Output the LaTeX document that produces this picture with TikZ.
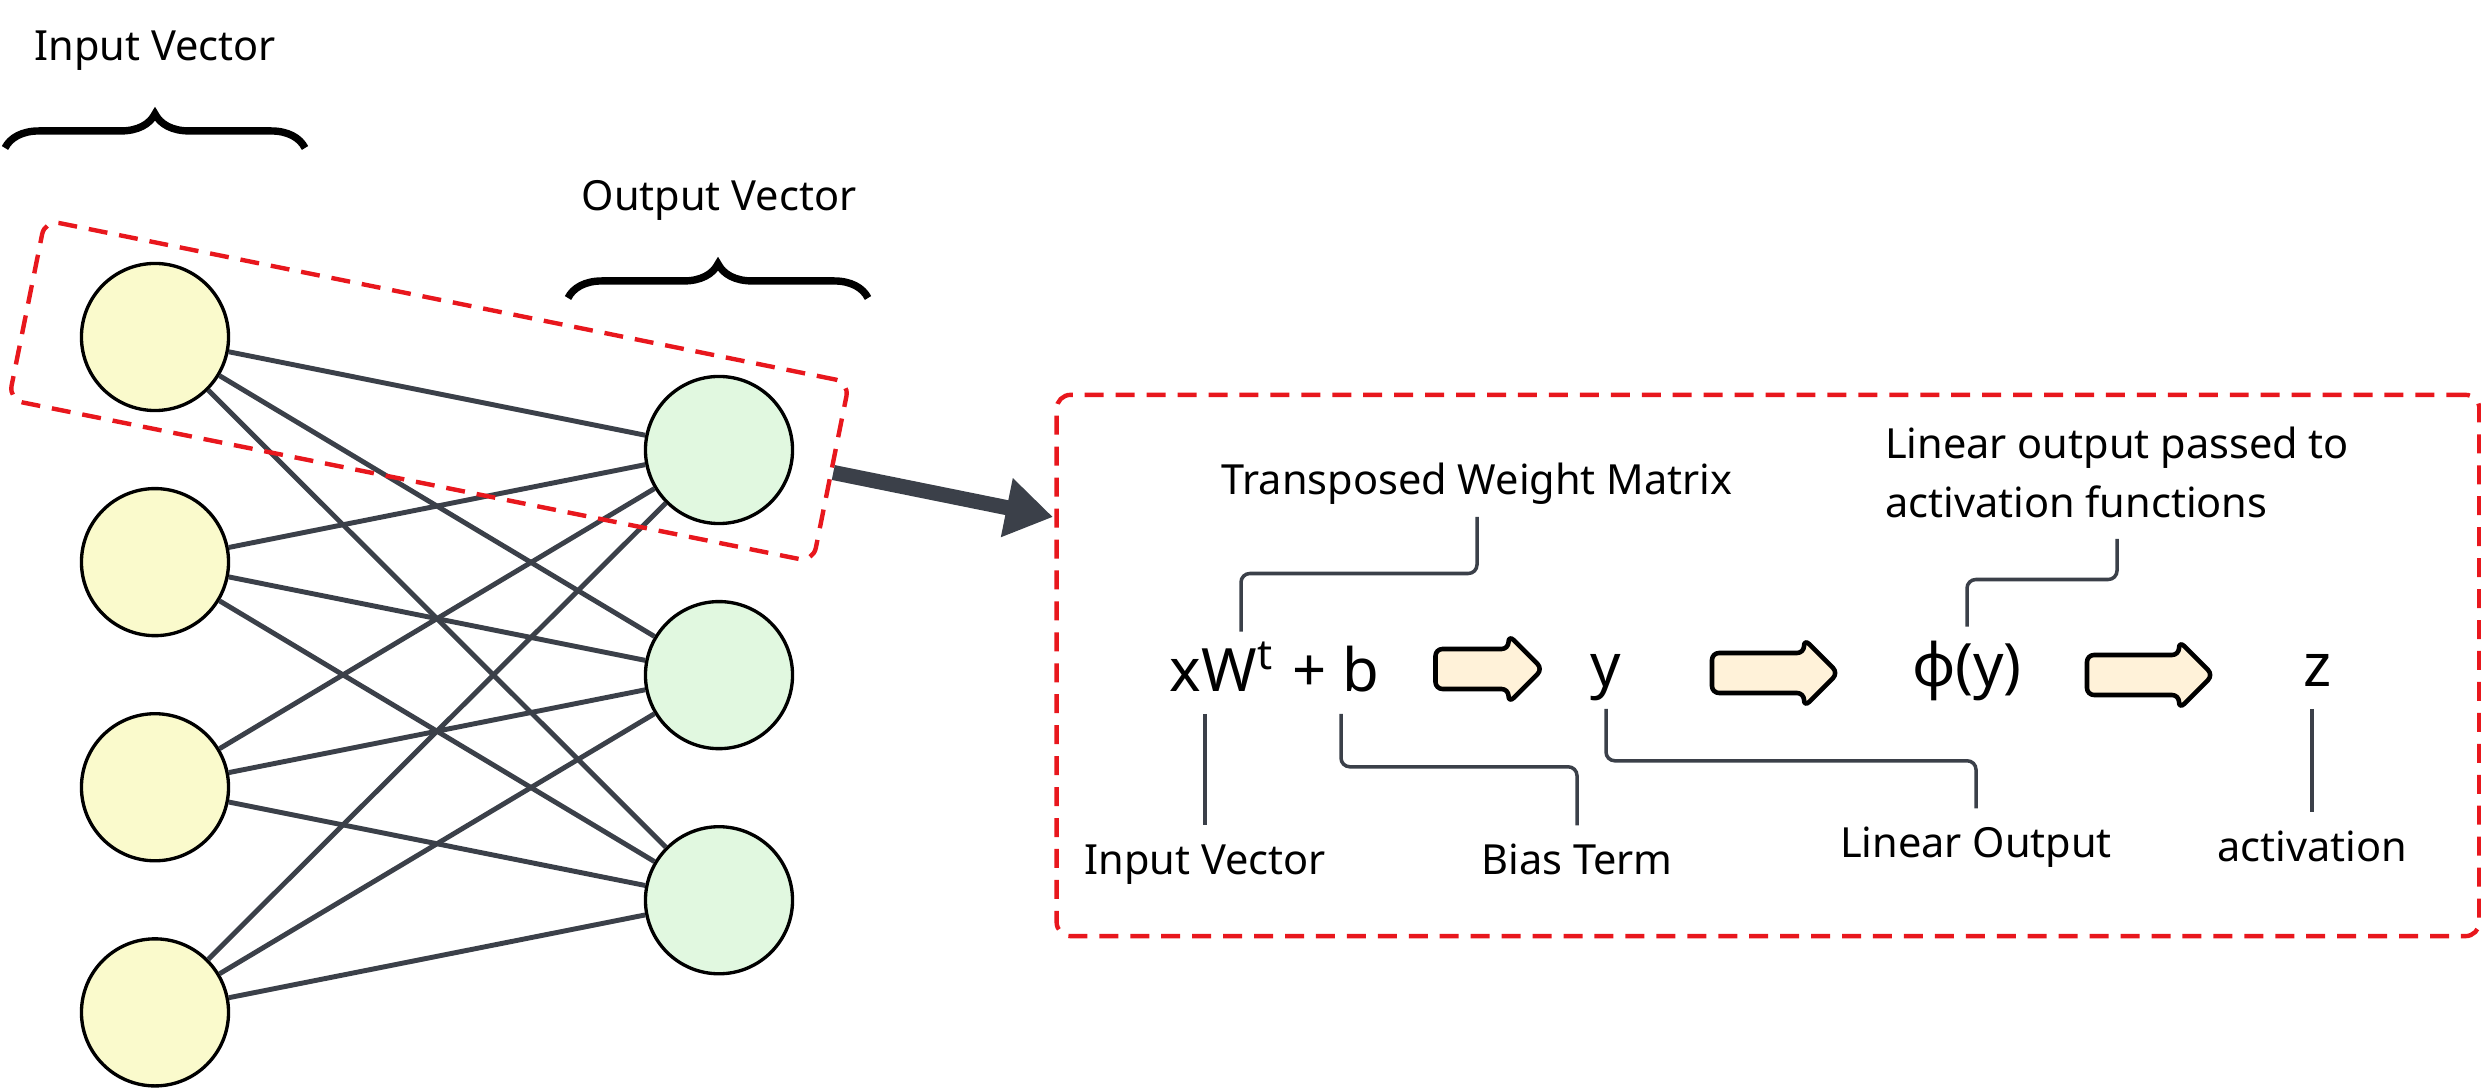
\documentclass[tikz,border=0pt]{standalone}
\usepackage{fontspec}
\setmainfont{Noto Sans}
\usetikzlibrary{positioning, arrows.meta, shapes.arrows, decorations.pathreplacing}

\definecolor{inyellow}{RGB}{250,250,204}
\definecolor{outgreen}{RGB}{225,248,224}
\definecolor{edgegray}{RGB}{59,64,73}
\definecolor{selred}{RGB}{232,23,29}
\definecolor{arrowcream}{RGB}{255,242,217}

\tikzset{
  neuron/.style={circle, draw, line width=0.95pt, minimum size=1.47cm, inner sep=0pt},
  inneuron/.style={neuron, fill=inyellow},
  outneuron/.style={neuron, fill=outgreen},
  weight/.style={draw=edgegray, line width=1.4pt},
  selbox/.style={draw=selred, line width=1.25pt, dash pattern=on 5.4pt off 3.4pt, rounded corners=4pt, inner sep=0pt},
  bracket/.style={decorate, decoration={brace, amplitude=9.7pt}, line width=2.1pt},
  heading/.style={font=\fontsize{11.8}{14}\selectfont},
  term/.style={font=\fontsize{17}{20}\selectfont, inner sep=0pt, text height=17pt, text depth=6pt},
  note/.style={font=\fontsize{11.8}{16.8}\selectfont, inner sep=0pt, text depth=6pt},
  lownote/.style={note, text height=13.9pt},
  callout/.style={draw=edgegray, line width=1pt, rounded corners=2.5pt},
  flow/.style={single arrow, draw, line width=1.3pt, fill=arrowcream, rounded corners=2pt, line join=round, inner xsep=0pt, inner ysep=0.177cm, single arrow head extend=0.14cm}
}

\begin{document}
\begin{tikzpicture}[x=0.01cm, y=-0.01cm, node distance=2.25cm, on grid]
\useasboundingbox (0,0) rectangle (2481,1089);

   % layers
   \node[inneuron] (in1) at (155,337) {};
   \node[inneuron] (in2) [below=of in1] {};
   \node[inneuron] (in3) [below=of in2] {};
   \node[inneuron] (in4) [below=of in3] {};

   \node[outneuron] (out1) at (719,450) {};
   \node[outneuron] (out2) [below=of out1] {};
   \node[outneuron] (out3) [below=of out2] {};

   \foreach \i in {1,...,4}
     \foreach \j in {1,2,3}
       \draw[weight] (in\i) -- (out\j);

   \node[heading, anchor=base] (inlbl) at (155,61) {Input Vector};
   \node[heading, anchor=base] (outlbl) at (719,211) {Output Vector};
   \draw[bracket] (5,148) -- (305,148);
   \draw[bracket] (568,298) -- (868,298);

   \node[selbox, rotate=-11.4, minimum width=8.2cm, minimum height=1.83cm] (sel) at (429,391) {};

   % formula panel
   \node[selbox, minimum width=14.22cm, minimum height=5.41cm] (calc) at (1768,665.5) {};
   \coordinate (hit) at (1053,517);
   \draw[edgegray, line width=4.3pt, -{Triangle[length=13.4pt, width=16.2pt]}] (sel.east) -- (hit);

   \node[term, anchor=base] (xw) at (1222,692) {xW\textsuperscript{t}};
   \node[term, anchor=base] (bias) at (1336,692) {+ b};
   \node[term, anchor=base] (yval) at (1606,687) {y};
   \node[term, anchor=base] (phiy) at (1967,687) {φ(y)};
   \node[term, anchor=base] (zval) at (2318,687) {z};

   \node[flow, minimum height=1.07cm] (f1) at (1479,669) {};
   \node[flow, minimum height=1.26cm] (f2) at (1765,673) {};
   \node[flow, minimum height=1.26cm] (f3) at (2140,675) {};

   \node[note, anchor=base] (wlbl) at (1477,495) {Transposed Weight Matrix};
   \node[note, align=left, anchor=south] (philbl) at (2117,539) {Linear output passed to\\activation functions};
   \node[lownote, anchor=base] (invec) at (1205,875) {Input Vector};
   \node[lownote, anchor=base] (biasterm) at (1577,875) {Bias Term};
   \node[lownote, anchor=base] (linout) at (1976,858) {Linear Output};
   \node[lownote, anchor=base] (actlbl) at (2312,862) {activation};

   \draw[callout] ([xshift=0.19cm]xw.north) -- ++(0,-58) -| (wlbl.south);
   \draw[callout] (invec.north |- xw.south) -- (invec.north);
   \draw[callout] ([xshift=0.05cm]bias.south) -- ++(0,53) -| (biasterm.north);
   \draw[callout] (yval.south) -- ++(0,52) -| (linout.north);
   \draw[callout] (phiy.north) -- ++(0,-47) -| (philbl.south);
   \draw[callout] (actlbl.north |- zval.south) -- (actlbl.north);

\end{tikzpicture}
\end{document}
